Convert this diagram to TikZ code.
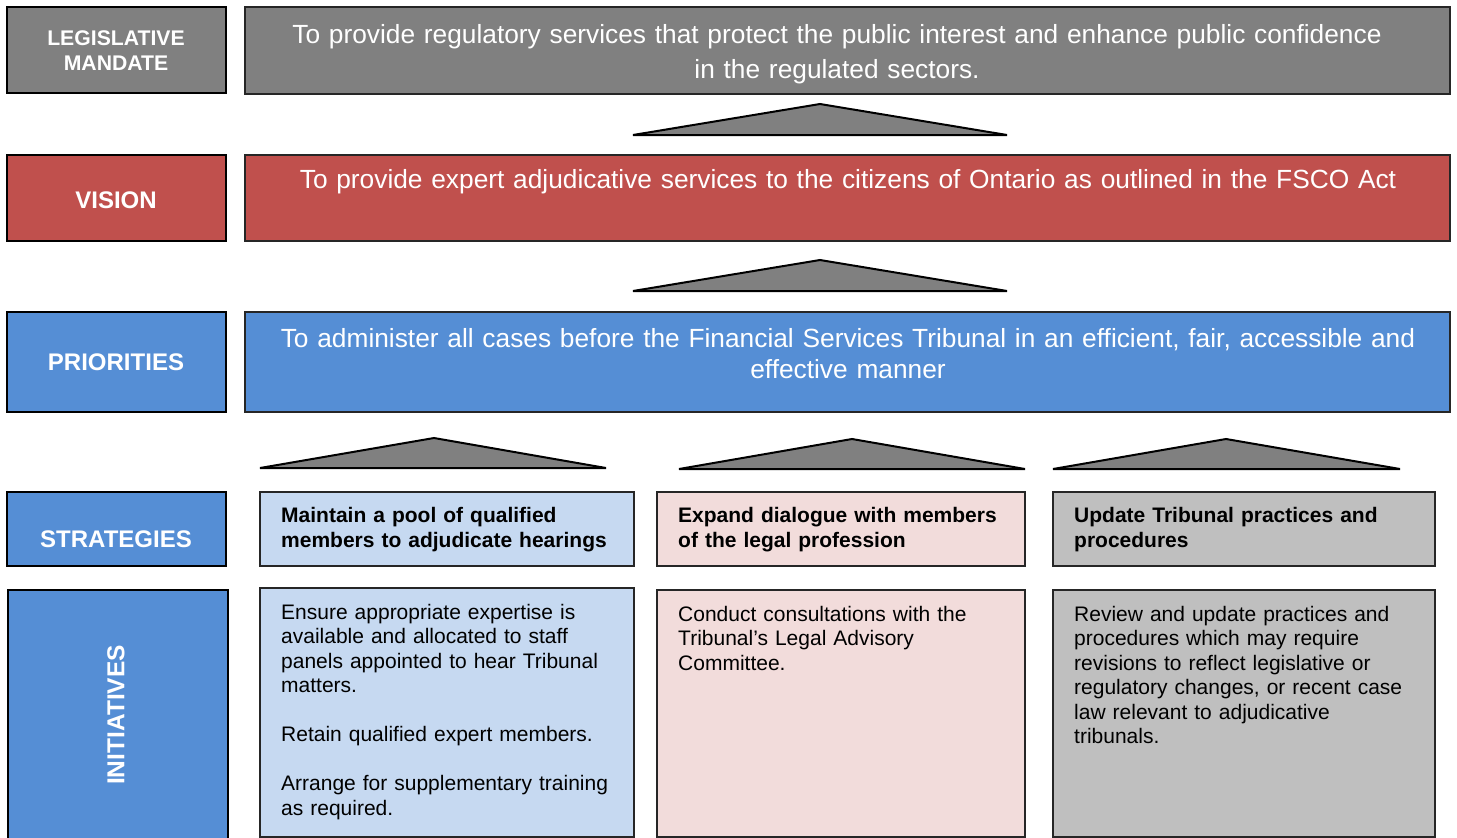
\documentclass[tikz,border=0pt]{standalone}
\usepackage{fontspec}
\setmainfont{Liberation Sans}
\definecolor{cgray}{HTML}{808080}
\definecolor{cred}{HTML}{C0504D}
\definecolor{cblue}{HTML}{558ED5}
\definecolor{clblue}{HTML}{C6D9F1}
\definecolor{cpink}{HTML}{F2DCDB}
\definecolor{clgray}{HTML}{BFBFBF}
\definecolor{cedge}{HTML}{262626}
\begin{document}
\begin{tikzpicture}[x=1pt,y=-1pt,
  lbox/.style={draw=black,line width=2.4pt,anchor=north west,inner sep=0,outer sep=0},
  rbox/.style={draw=cedge,line width=1.5pt,anchor=north west,inner sep=0,outer sep=0},
  lbl/.style={text=white,font={\fontsize{24}{25}\selectfont\bfseries},align=center,text width=215pt,inner sep=0,anchor=base},
  wide/.style={text=white,font={\fontsize{26.3}{35}\selectfont},align=center,text width=1190pt,inner sep=0,anchor=base},
  strat/.style={text=black,font={\fontsize{21}{25}\selectfont\bfseries},align=left,text width=370pt,inner sep=0,anchor=base west},
  init/.style={text=black,font={\fontsize{21}{24.5}\selectfont},align=left,text width=370pt,inner sep=0,anchor=base west},
  tri/.style={draw=black,line width=2pt,fill=cgray,line join=miter}]
\useasboundingbox (0,0) rectangle (1457,838);
% left labels
\node[lbox,fill=cgray,minimum width=219,minimum height=86] (legB) at (7,7) {};
\node[lbox,fill=cred,minimum width=219,minimum height=86] (visB) at (7,155) {};
\node[lbox,fill=cblue,minimum width=219,minimum height=100] (priB) at (7,312) {};
\node[lbox,fill=cblue,minimum width=219,minimum height=74] (strB) at (7,492) {};
\node[lbox,fill=cblue,minimum width=220,minimum height=252] (iniB) at (8,590) {};
\node[lbl,font={\fontsize{21.2}{25}\selectfont\bfseries}] (legT) at (116,45) {LEGISLATIVE\\MANDATE};
\node[lbl] (visT) at (116,208) {VISION};
\node[lbl] (priT) at (116,370) {PRIORITIES};
\node[lbl] (strT) at (116,547) {STRATEGIES};
\node[text=white,font={\fontsize{24.5}{25}\selectfont\bfseries},inner sep=0,rotate=90] (iniT) at (116,715) {INITIATIVES};
% wide boxes
\node[rbox,fill=cgray,minimum width=1205,minimum height=87] (manB) at (245,7) {};
\node[rbox,fill=cred,minimum width=1205,minimum height=86] (vsnB) at (245,155) {};
\node[rbox,fill=cblue,minimum width=1205,minimum height=100] (prB) at (245,312) {};
\node[wide] (manT) at (837,43) {To provide regulatory services that protect the public interest and enhance public confidence\\in the regulated sectors.};
\node[wide] (vsnT) at (848,188) {To provide expert adjudicative services to the citizens of Ontario as outlined in the FSCO Act};
\node[wide,font={\fontsize{26.3}{31}\selectfont}] (prT) at (848,347) {To administer all cases before the Financial Services Tribunal in an efficient, fair, accessible and\\effective manner};
% triangles
\draw[tri] (633,135) -- (820,104) -- (1007,135) -- cycle;
\draw[tri] (633,291) -- (820,260) -- (1007,291) -- cycle;
\draw[tri] (260,468) -- (434,438) -- (606,468) -- cycle;
\draw[tri] (679,469) -- (852,439) -- (1025,469) -- cycle;
\draw[tri] (1053,469) -- (1226,439) -- (1400,469) -- cycle;
% strategy boxes
\node[rbox,fill=clblue,minimum width=374,minimum height=74] (s1) at (260,492) {};
\node[rbox,fill=cpink,minimum width=368,minimum height=74] (s2) at (657,492) {};
\node[rbox,fill=clgray,minimum width=382,minimum height=74] (s3) at (1053,492) {};
\node[strat] (s1T) at (281,522) {Maintain a pool of qualified\\members to adjudicate hearings};
\node[strat] (s2T) at (678,522) {Expand dialogue with members\\of the legal profession};
\node[strat] (s3T) at (1074,522) {Update Tribunal practices and\\procedures};
% initiative boxes
\node[rbox,fill=clblue,minimum width=374,minimum height=249] (i1) at (260,588) {};
\node[rbox,fill=cpink,minimum width=368,minimum height=247] (i2) at (657,590) {};
\node[rbox,fill=clgray,minimum width=382,minimum height=247] (i3) at (1053,590) {};
\node[init] (i1T) at (281,619) {Ensure appropriate expertise is\\available and allocated to staff\\panels appointed to hear Tribunal\\matters.\\[24.5pt]Retain qualified expert members.\\[24.5pt]Arrange for supplementary training\\as required.};
\node[init] (i2T) at (678,621) {Conduct consultations with the\\Tribunal’s Legal Advisory\\Committee.};
\node[init] (i3T) at (1074,621) {Review and update practices and\\procedures which may require\\revisions to reflect legislative or\\regulatory changes, or recent case\\law relevant to adjudicative\\tribunals.};
\end{tikzpicture}
\end{document}
